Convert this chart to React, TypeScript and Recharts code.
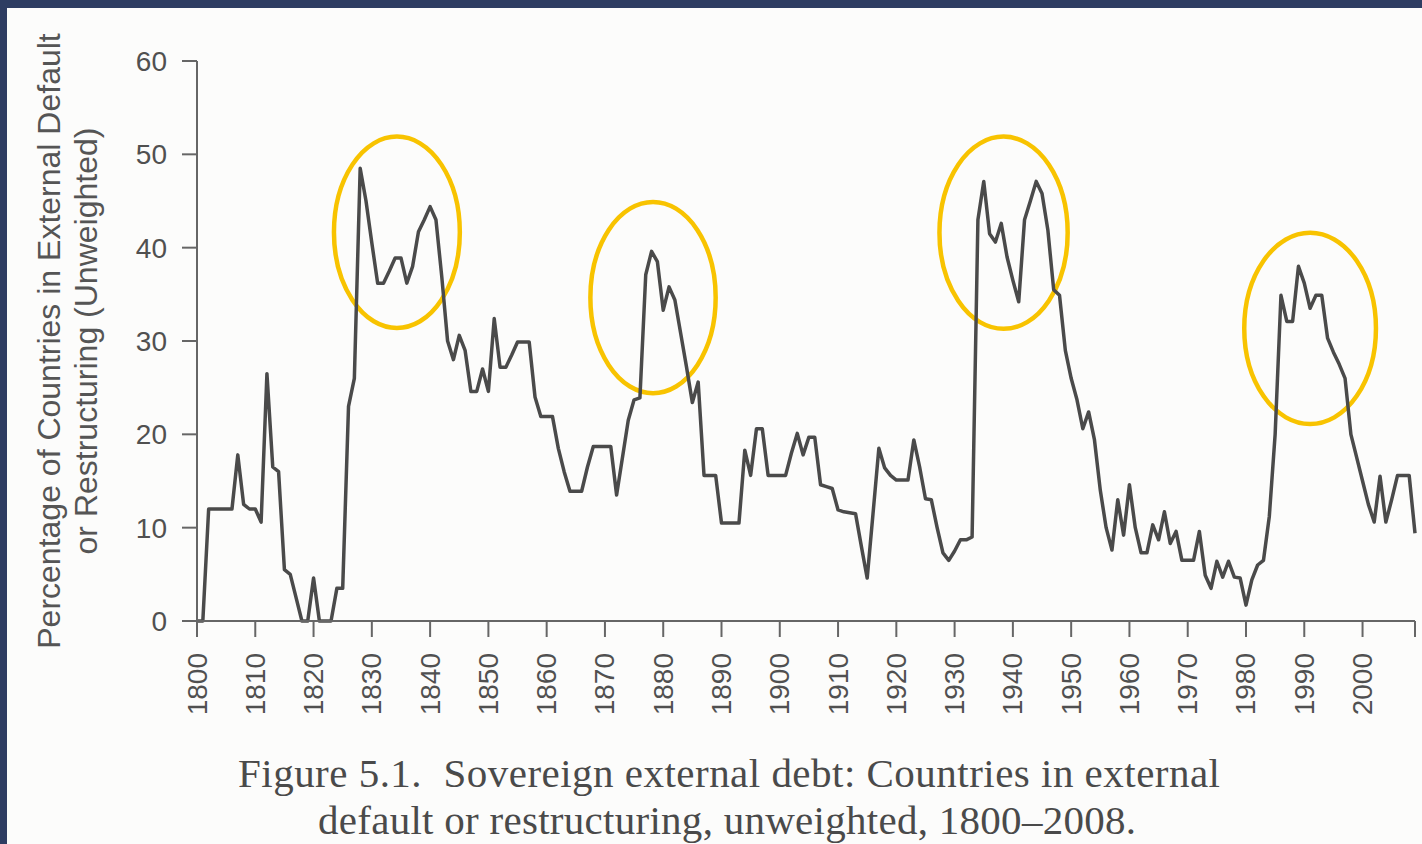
import { LineChart, Line, XAxis, YAxis, ReferenceArea } from 'recharts'

// share of countries in external default or restructuring (%), one value per year
const START_YEAR = 1800

const pct1800s = [
  0, 0, 12, 12, 12, 12, 12, 17.8, 12.5, 12,            // 1800s
  12, 10.6, 26.5, 16.5, 16, 5.5, 5, 2.5, 0, 0,         // 1810s
  4.6, 0, 0, 0, 3.5, 3.5, 23, 26, 48.5, 45,            // 1820s
  40.5, 36.2, 36.2, 37.5, 38.9, 38.9, 36.2, 38, 41.7, 43, // 1830s
  44.4, 43, 36.9, 30, 28, 30.6, 29, 24.6, 24.6, 27,    // 1840s
  24.6, 32.4, 27.2, 27.2, 28.5, 29.9, 29.9, 29.9, 24, 21.9, // 1850s
  21.9, 21.9, 18.5, 16, 13.9, 13.9, 13.9, 16.5, 18.7, 18.7, // 1860s
  18.7, 18.7, 13.5, 17.5, 21.5, 23.7, 23.9, 37.1, 39.6, 38.5, // 1870s
  33.3, 35.8, 34.4, 30.8, 27.2, 23.4, 25.6, 15.6, 15.6, 15.6, // 1880s
  10.5, 10.5, 10.5, 10.5, 18.3, 15.6, 20.6, 20.6, 15.6, 15.6, // 1890s
]

const pct1900s = [
  15.6, 15.6, 18, 20.1, 17.8, 19.7, 19.7, 14.6, 14.4, 14.2, // 1900s
  11.9, 11.7, 11.6, 11.5, 8, 4.6, 11.5, 18.5, 16.4, 15.6,   // 1910s
  15.1, 15.1, 15.1, 19.4, 16.5, 13.1, 13, 10, 7.3, 6.5,     // 1920s
  7.5, 8.7, 8.7, 9, 43, 47.1, 41.5, 40.6, 42.6, 39,         // 1930s
  36.5, 34.2, 43, 45, 47.1, 45.8, 41.9, 35.5, 34.9, 29,     // 1940s
  26, 23.7, 20.6, 22.4, 19.4, 14, 10, 7.6, 13, 9.2,         // 1950s
  14.6, 10, 7.3, 7.3, 10.3, 8.7, 11.7, 8.3, 9.6, 6.5,       // 1960s
  6.5, 6.5, 9.6, 4.9, 3.5, 6.4, 4.7, 6.4, 4.7, 4.6,         // 1970s
  1.7, 4.4, 6, 6.5, 11.2, 20, 34.9, 32.1, 32.1, 38,         // 1980s
  36.2, 33.5, 34.9, 34.9, 30.3, 28.8, 27.5, 26, 20, 17.5,   // 1990s
  15, 12.5, 10.6, 15.5, 10.6, 13, 15.6, 15.6, 15.6, 9.4,    // 2000s
]

const yTicks = [0, 10, 20, 30, 40, 50, 60]
const decadeTicks = [1800, 1810, 1820, 1830, 1840, 1850, 1860, 1870, 1880, 1890, 1900,
  1910, 1920, 1930, 1940, 1950, 1960, 1970, 1980, 1990, 2000]
const AXIS_END = 2009

// yellow rings drawn round the four default waves
const ringFrom = [1823.5, 1867.5, 1927.4, 1979.7]
const ringTo = [1845.1, 1889.0, 1949.4, 2002.3]
const ringLow = [31.4, 24.4, 31.3, 21.1]
const ringHigh = [51.9, 44.9, 51.9, 41.6]

const data = [...pct1800s, ...pct1900s].map((v, i) => ({ year: START_YEAR + i, pct: v }))

const INK = '#4a4a4a'
const AXIS = '#666'
const SANS = '"Liberation Sans", Arial, sans-serif'
const SERIF = '"Liberation Serif", "Times New Roman", serif'

function YearTick(props: any) {
  const { x, y, payload } = props
  if (payload.value === AXIS_END) return null
  return (
    <text
      x={x}
      y={y}
      transform={`rotate(-90 ${x} ${y})`}
      textAnchor="end"
      dominantBaseline="central"
      fontFamily={SANS}
      fontSize={28}
      fill="#505050"
    >
      {payload.value}
    </text>
  )
}

function Ring(props: any) {
  const { x, y, width, height } = props
  return (
    <ellipse
      cx={x + width / 2}
      cy={y + height / 2}
      rx={width / 2}
      ry={height / 2}
      fill="none"
      stroke="#F8C300"
      strokeWidth={4.5}
    />
  )
}

export default function App() {
  return (
    <div style={{ position: 'absolute', left: 0, top: 0, width: 1422, height: 844, background: '#2e3d62', overflow: 'hidden' }}>
      <div style={{ position: 'absolute', left: 7, top: 8, width: 1415, height: 836, background: '#fcfcfb' }} />

      <div style={{ position: 'absolute', left: 0, top: 0 }}>
        <LineChart width={1422} height={741} data={data} margin={{ top: 61, right: 7, bottom: 0, left: 0 }}>
          <XAxis
            dataKey="year"
            type="number"
            domain={[1800, AXIS_END]}
            ticks={[...decadeTicks, AXIS_END]}
            interval={0}
            height={120}
            tickSize={16}
            tickMargin={16}
            tick={<YearTick />}
            axisLine={{ stroke: AXIS, strokeWidth: 2 }}
            tickLine={{ stroke: AXIS, strokeWidth: 2 }}
          />
          <YAxis
            domain={[0, 60]}
            ticks={yTicks}
            interval={0}
            width={197}
            tickSize={15}
            tickMargin={15}
            tick={{ fontFamily: SANS, fontSize: 28, fill: '#505050' }}
            axisLine={{ stroke: AXIS, strokeWidth: 2 }}
            tickLine={{ stroke: AXIS, strokeWidth: 2 }}
          />
          <Line
            type="linear"
            dataKey="pct"
            stroke={INK}
            strokeWidth={3.5}
            strokeLinejoin="round"
            dot={false}
            isAnimationActive={false}
          />
          {ringFrom.map((x1, i) => (
            <ReferenceArea
              key={i}
              x1={x1}
              x2={ringTo[i]}
              y1={ringLow[i]}
              y2={ringHigh[i]}
              shape={<Ring />}
              ifOverflow="visible"
            />
          ))}
        </LineChart>
      </div>

      <svg width={1422} height={844} style={{ position: 'absolute', left: 0, top: 0, pointerEvents: 'none' }}>
        <g transform="rotate(-90)" fontFamily={SANS} fontSize={32} fill="#555" textAnchor="middle">
          <text x={-341} y={60}>Percentage of Countries in External Default</text>
          <text x={-341} y={97}>or Restructuring (Unweighted)</text>
        </g>
        <g fontFamily={SERIF} fontSize={41} fill="#4a4a4a">
          <text x={238} y={787} textLength={982} lengthAdjust="spacing" xmlSpace="preserve">
            {'Figure 5.1.  Sovereign external debt: Countries in external'}
          </text>
          <text x={318} y={834} textLength={818} lengthAdjust="spacing">
            {'default or restructuring, unweighted, 1800–2008.'}
          </text>
        </g>
      </svg>
    </div>
  )
}
